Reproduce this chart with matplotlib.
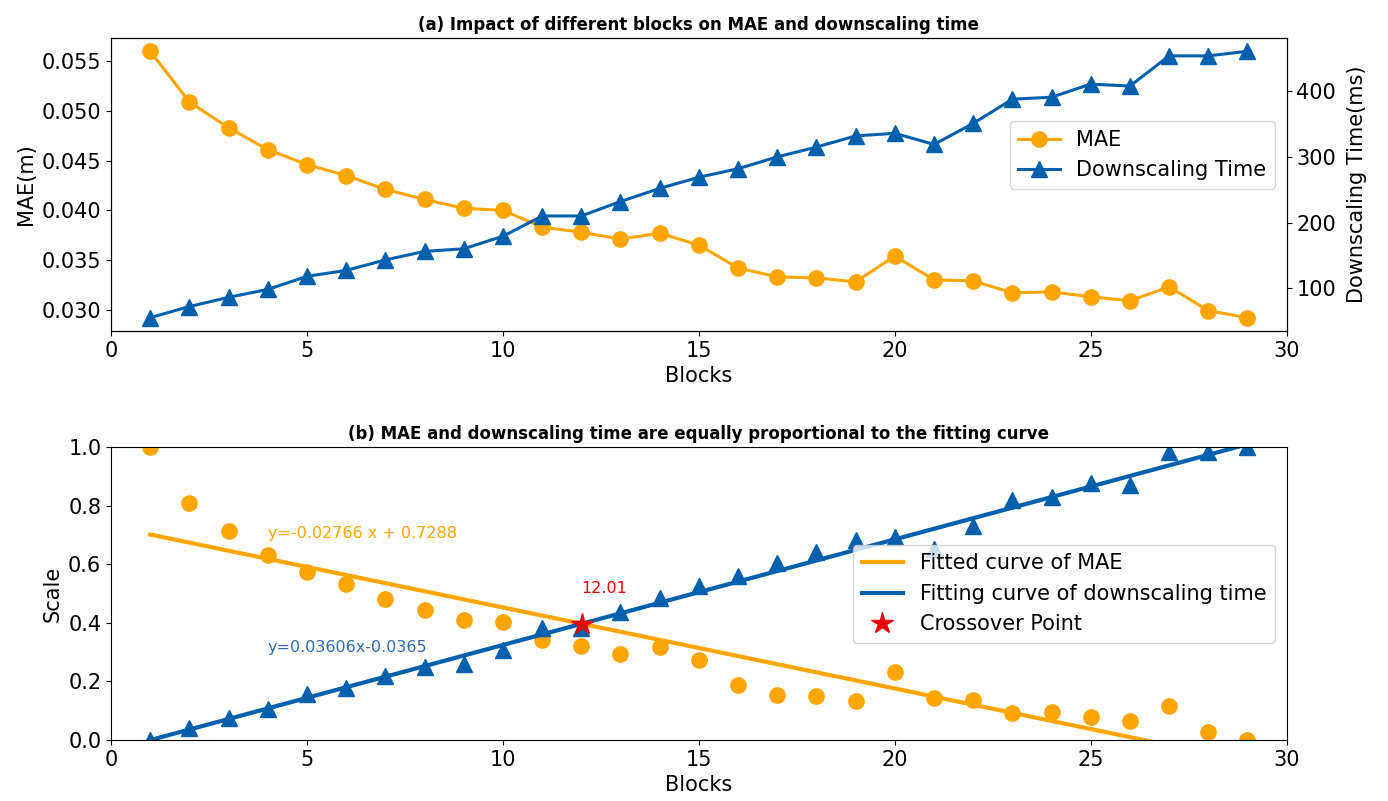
import matplotlib
matplotlib.use("Agg")
import matplotlib.pyplot as plt
import numpy as np

blocks = list(range(1, 30))
mae = [0.0560, 0.0509, 0.0483, 0.0461, 0.0446, 0.0435, 0.0421, 0.0411, 0.0402, 0.0400,
       0.0383, 0.0378, 0.0371, 0.0377, 0.0365, 0.0342, 0.0333, 0.0332, 0.0328, 0.0354,
       0.0330, 0.0329, 0.0317, 0.0318, 0.0313, 0.0309, 0.0323, 0.0299, 0.0292]
time_ms = [55, 72, 86, 98, 118, 127, 143, 156, 160, 179,
           210, 210, 232, 252, 269, 282, 300, 315, 332, 336,
           319, 351, 388, 391, 411, 408, 454, 454, 461]

mae_slope, mae_icpt = -0.02766, 0.7288
time_slope, time_icpt = 0.03606, -0.0365
cross_x = 12.01

ORANGE = "#FFA500"
BLUE = "#0060AD"
FS = 15

plt.rcParams['font.family'] = ['DejaVu Sans']

fig = plt.figure(figsize=(13.88, 8.01), dpi=100)
ax1 = fig.add_axes([0.080, 0.5868, 0.847, 0.3658])
ax2 = ax1.twinx()

x = np.array(blocks)
l1, = ax1.plot(x, mae, color=ORANGE, marker='o', markersize=11, linewidth=2.2, label='MAE')
l2, = ax2.plot(x, time_ms, color=BLUE, marker='^', markersize=11, linewidth=2.2, label='Downscaling Time')
ax1.set_xlim(0, 30)
ax1.set_xticks([0, 5, 10, 15, 20, 25, 30])
ax1.set_yticks([0.030, 0.035, 0.040, 0.045, 0.050, 0.055])
ax2.set_yticks([100, 200, 300, 400])
ax1.tick_params(labelsize=FS)
ax2.tick_params(labelsize=FS)
ax1.set_xlabel('Blocks', fontsize=FS)
ax1.set_ylabel('MAE(m)', fontsize=FS)
ax2.set_ylabel('Downscaling Time(ms)', fontsize=FS, labelpad=8)
ax1.set_title('(a) Impact of different blocks on MAE and downscaling time', fontsize=12, fontweight='bold')
ax1.legend([l1, l2], ['MAE', 'Downscaling Time'], fontsize=FS, loc='upper right',
           bbox_to_anchor=(0.99, 0.715), borderaxespad=0)

# Bottom panel
ax3 = fig.add_axes([0.080, 0.0762, 0.847, 0.3658])
mae_arr = np.array(mae)
t_arr = np.array(time_ms, dtype=float)
mae_n = (mae_arr - mae_arr.min()) / (mae_arr.max() - mae_arr.min())
t_n = (t_arr - t_arr.min()) / (t_arr.max() - t_arr.min())
ax3.plot(x, mae_n, linestyle='none', marker='o', markersize=11, color=ORANGE)
ax3.plot(x, t_n, linestyle='none', marker='^', markersize=11, color=BLUE)
fa, = ax3.plot(x, mae_slope * x + mae_icpt, color=ORANGE, linewidth=3, label='Fitted curve of MAE')
fb, = ax3.plot(x, time_slope * x + time_icpt, color=BLUE, linewidth=3, label='Fitting curve of downscaling time')
cy = time_slope * cross_x + time_icpt
st, = ax3.plot([cross_x], [cy], linestyle='none', marker='*', markersize=16, color='#E8000B',
               label='Crossover Point', zorder=5)
ax3.text(12, 0.5, '12.01', color='#E8000B', fontsize=11.5)
ax3.text(4, 0.69, 'y=-0.02766 x + 0.7288', color=ORANGE, fontsize=11.5)
ax3.text(4, 0.3, 'y=0.03606x-0.0365', color='#2E6DB4', fontsize=11.5)
ax3.set_xlim(0, 30)
ax3.set_ylim(0, 1.0)
ax3.set_xticks([0, 5, 10, 15, 20, 25, 30])
ax3.set_yticks([0.0, 0.2, 0.4, 0.6, 0.8, 1.0])
ax3.tick_params(labelsize=FS)
ax3.set_xlabel('Blocks', fontsize=FS)
ax3.set_ylabel('Scale', fontsize=FS)
ax3.set_title('(b) MAE and downscaling time are equally proportional to the fitting curve',
              fontsize=12, fontweight='bold')
ax3.legend(handles=[fa, fb, st], fontsize=FS, loc='upper right',
           bbox_to_anchor=(0.99, 0.665), borderaxespad=0)

fig.savefig('out.png', dpi=100)
